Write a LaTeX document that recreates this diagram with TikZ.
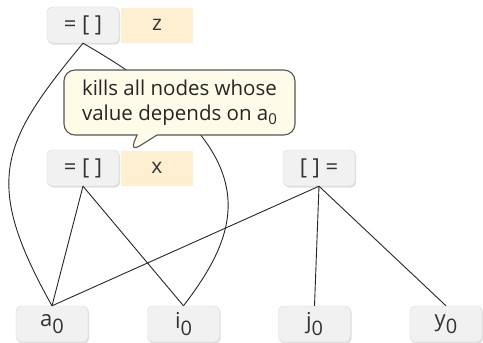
\documentclass[tikz,border=0pt]{standalone}
\usepackage{fontspec}
\setmainfont{Open Sans}
\usetikzlibrary{shapes.callouts,shadows}
\definecolor{opfill}{HTML}{F1F1F1}
\definecolor{opline}{HTML}{D9D9D9}
\definecolor{varfill}{HTML}{FDEFCF}
\definecolor{notefill}{HTML}{FEFBE8}
\definecolor{noteline}{HTML}{555555}
\definecolor{txt}{HTML}{333333}
\newcommand{\sub}[1]{\raisebox{-6.5pt}{\fontsize{20}{20}\selectfont #1}}
\tikzset{
  opbox/.style={draw=opline, fill=opfill, rounded corners=5pt, minimum width=72pt,
    minimum height=36pt, inner sep=0pt, text=txt, font=\fontsize{22}{22}\selectfont,
    drop shadow={opacity=0.25, shadow xshift=1.2pt, shadow yshift=-1.5pt}},
  varbox/.style={fill=varfill, minimum width=72pt, minimum height=35pt, inner sep=0pt,
    text=txt, font=\fontsize{21}{21}\selectfont},
  edge/.style={draw=black!85, line width=0.9pt},
  note/.style={rectangle callout, draw=noteline, fill=notefill, line width=1.1pt,
    rounded corners=11pt, minimum width=231pt, minimum height=65pt, align=left,
    text=black!85, font=\fontsize{20.5}{25.5}\selectfont, callout pointer width=20pt}
}
\begin{document}
\begin{tikzpicture}[x=1pt,y=1pt]
  \useasboundingbox (0,0) rectangle (483,-343);
  % operator nodes and the variables they write
  \node[opbox] (top) at (83,-25) {= [ ]};
  \node[varbox] (z) at (157,-25) {z};
  \node[opbox] (mid) at (83,-168) {= [ ]};
  \node[varbox] (x) at (157,-168) {x};
  \node[opbox] (rd) at (319,-168) {[ ] =};
  % initial values
  \node[opbox] (a0) at (52,-324) {a\sub{0}};
  \node[opbox] (i0) at (183.5,-324) {i\sub{0}};
  \node[opbox] (j0) at (314.5,-324) {j\sub{0}};
  \node[opbox] (y0) at (446,-324) {y\sub{0}};
  % dependencies
  \draw[edge] (top.south) .. controls (0.5,-143) and (-18,-181) .. (a0.north);
  \draw[edge] (top.south) .. controls (271,-151) and (243,-228) .. (i0.north);
  \draw[edge] (mid.south) -- (a0.north);
  \draw[edge] (mid.south) -- (i0.north);
  \draw[edge] (rd.south) -- (a0.north);
  \draw[edge] (rd.south) -- (j0.north);
  \draw[edge] (rd.south) -- (y0.north);
  % annotation
  \node[note, callout absolute pointer={(130,-152)}] (n) at (179.5,-102.5)
    {kills all nodes whose\\value depends on a\raisebox{-4pt}{\fontsize{15}{15}\selectfont 0}};
\end{tikzpicture}
\end{document}
